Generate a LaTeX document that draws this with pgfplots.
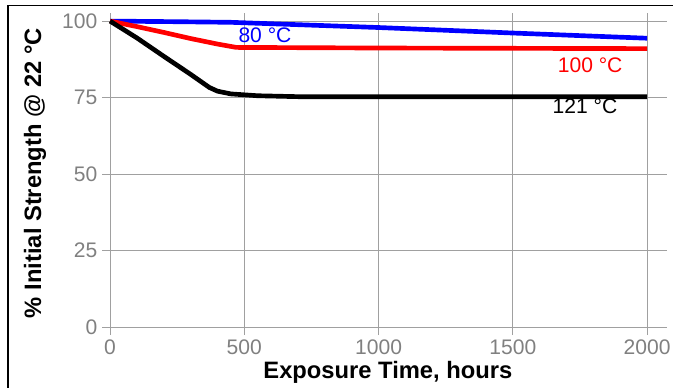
\documentclass[border=0pt]{standalone}
\usepackage{fontspec}
\setmainfont{Liberation Sans}
\usepackage{pgfplots}
\pgfplotsset{compat=1.18}
\definecolor{gridgray}{RGB}{160,160,160}
\definecolor{tickgray}{RGB}{128,128,128}
\begin{document}
\begin{tikzpicture}
\useasboundingbox (0,0) rectangle (504.75pt,-290.25pt);
\draw[line width=1.2pt] (6pt,-320pt) -- (6pt,-4pt) -- (530pt,-4pt);
\begin{axis}[
  at={(76.5pt,-251.25pt)}, anchor=south west,
  scale only axis, width=423.7pt, height=241.4pt,
  xmin=-30, xmax=2074, ymin=-2.6, ymax=102.6,
  xtick={0,500,1000,1500,2000}, ytick={0,25,50,75,100},
  grid=major, major grid style={gridgray, line width=0.75pt},
  axis line style={draw=none}, tick style={draw=none},
  /pgf/number format/1000 sep={},
  /pgf/number format/assume math mode=true,
  tick label style={font=\fontsize{15.8}{18}\selectfont, text=tickgray},
  xlabel={Exposure Time, hours},
  ylabel={\% Initial Strength @ 22 °C},
  label style={font=\fontsize{17.8}{20}\selectfont\bfseries},
  xlabel style={at={(axis description cs:0.506,-0.115)}, anchor=center},
  ylabel style={at={(axis description cs:-0.1186,0.503)}, anchor=center, rotate=0},
  clip=false,
]
\addplot[blue, line width=3.5pt] coordinates {(0,100) (250,99.8) (450,99.6) (1000,97.9) (1500,96.1) (2000,94.4)};
\addplot[red, line width=3.5pt] coordinates {(0,100) (100,98.2) (200,96.3) (300,94.3) (400,92.5) (470,91.4) (1000,91.2) (2000,91.0)};
\addplot[black, line width=3.5pt] coordinates {(0,100) (100,94.5) (200,88.5) (300,82.6) (370,78.3) (400,77.1) (450,76.2) (550,75.6) (700,75.3) (2000,75.3)};
\node[blue, font=\fontsize{15.8}{18}\selectfont] at (axis cs:577,95.4) {80 °C};
\node[red, font=\fontsize{15.8}{18}\selectfont] at (axis cs:1788,85.6) {100 °C};
\node[black, font=\fontsize{15.8}{18}\selectfont] at (axis cs:1769,72.2) {121 °C};
\end{axis}
\end{tikzpicture}
\end{document}
